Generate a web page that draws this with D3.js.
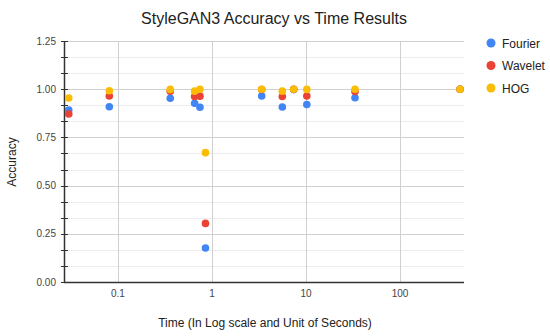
<!DOCTYPE html>
<html>
<head>
<meta charset="utf-8">
<script src="https://cdn.jsdelivr.net/npm/d3@7"></script>
<style>
  body { margin: 0; background: #fff; }
  svg { font-family: "Liberation Sans", Arial, sans-serif; }
</style>
</head>
<body>
<svg id="chart"></svg>
<script>
// time in seconds (log x axis)
const times = [0.030, 0.081, 0.36, 0.654, 0.745, 0.853, 3.38, 5.6, 7.4, 10.2, 33.2, 435];
const fourier = [0.892, 0.909, 0.953, 0.927, 0.906, 0.176, 0.965, 0.908, 0.998, 0.921, 0.956, 1.0];
const wavelet = [0.871, 0.965, 0.99, 0.962, 0.964, 0.304, 0.998, 0.962, 1.0, 0.965, 0.988, 1.0];
const hog = [0.954, 0.992, 0.999, 0.99, 1.0, 0.671, 1.0, 0.99, 1.0, 0.999, 1.0, 1.0];

const seriesNames = ["Fourier", "Wavelet", "HOG"];
const seriesValues = [fourier, wavelet, hog];
const colors = ["#4285f4", "#ea4335", "#fbbc04"];

const xTicks = [0.1, 1, 10, 100];
const yTicks = [0, 0.25, 0.5, 0.75, 1, 1.25];

const width = 550;
const height = 336;
const margin = { top: 41, right: 86, bottom: 54, left: 64 };

const svg = d3.select("#chart").attr("width", width).attr("height", height);

const x = d3
  .scaleLog()
  .domain([0.0267, 479])
  .range([margin.left, width - margin.right]);

const y = d3
  .scaleLinear()
  .domain([0, 1.25])
  .range([height - margin.bottom, margin.top]);

// minor horizontal gridlines (3 per major step)
const minorY = d3.range(0, 1.25 + 1e-9, 0.25 / 3).filter((v) => Math.abs(v / 0.25 - Math.round(v / 0.25)) > 0.01);

svg
  .append("g")
  .selectAll("line")
  .data(minorY)
  .enter()
  .append("line")
  .attr("x1", margin.left)
  .attr("x2", width - margin.right)
  .attr("y1", (d) => Math.round(y(d)) + 0.5)
  .attr("y2", (d) => Math.round(y(d)) + 0.5)
  .style("stroke", "#ececec");

// major horizontal gridlines
svg
  .append("g")
  .selectAll("line")
  .data(yTicks)
  .enter()
  .append("line")
  .attr("x1", margin.left)
  .attr("x2", width - margin.right)
  .attr("y1", (d) => Math.round(y(d)) + 0.5)
  .attr("y2", (d) => Math.round(y(d)) + 0.5)
  .style("stroke", "#d0d0d0");

// vertical gridlines
svg
  .append("g")
  .selectAll("line")
  .data(xTicks)
  .enter()
  .append("line")
  .attr("x1", (d) => Math.round(x(d)) + 0.5)
  .attr("x2", (d) => Math.round(x(d)) + 0.5)
  .attr("y1", margin.top)
  .attr("y2", height - margin.bottom)
  .style("stroke", "#d0d0d0");

// y axis line with tick marks on both sides
const yAxis = svg.append("g");
yAxis
  .append("line")
  .attr("x1", margin.left + 0.5)
  .attr("x2", margin.left + 0.5)
  .attr("y1", y(1.25))
  .attr("y2", y(0))
  .style("stroke", "#333")
  .style("stroke-width", 1.5);

yAxis
  .selectAll(".tickmark")
  .data(yTicks.concat(minorY))
  .enter()
  .append("line")
  .attr("class", "tickmark")
  .attr("x1", margin.left - 3)
  .attr("x2", margin.left + 4)
  .attr("y1", (d) => Math.round(y(d)) + 0.5)
  .attr("y2", (d) => Math.round(y(d)) + 0.5)
  .style("stroke", "#333");

yAxis
  .selectAll("text")
  .data(yTicks)
  .enter()
  .append("text")
  .attr("x", margin.left - 8)
  .attr("y", (d) => y(d) + 3.5)
  .attr("text-anchor", "end")
  .style("font-size", "10px")
  .style("fill", "#444")
  .text((d) => d3.format(".2f")(d));

// x axis line
svg
  .append("line")
  .attr("x1", margin.left)
  .attr("x2", width - margin.right)
  .attr("y1", y(0) + 0.5)
  .attr("y2", y(0) + 0.5)
  .style("stroke", "#333")
  .style("stroke-width", 1.5);

svg
  .append("g")
  .selectAll("text")
  .data(xTicks)
  .enter()
  .append("text")
  .attr("x", (d) => x(d))
  .attr("y", y(0) + 15)
  .attr("text-anchor", "middle")
  .style("font-size", "10px")
  .style("fill", "#444")
  .text((d) => d);

// points, drawn series by series so HOG ends up on top
seriesValues.forEach(function (vals, s) {
  svg
    .append("g")
    .selectAll("circle")
    .data(vals)
    .enter()
    .append("circle")
    .attr("cx", (d, i) => x(times[i]))
    .attr("cy", (d) => y(d))
    .attr("r", 3.8)
    .style("fill", colors[s]);
});

// title
svg
  .append("text")
  .attr("x", 274)
  .attr("y", 24)
  .attr("text-anchor", "middle")
  .style("font-size", "16px")
  .style("fill", "#222")
  .text("StyleGAN3 Accuracy vs Time Results");

// axis titles
svg
  .append("text")
  .attr("x", 265)
  .attr("y", 327)
  .attr("text-anchor", "middle")
  .style("font-size", "12px")
  .style("fill", "#222")
  .text("Time (In Log scale and Unit of Seconds)");

svg
  .append("text")
  .attr("transform", "translate(16, 162) rotate(-90)")
  .attr("text-anchor", "middle")
  .style("font-size", "12px")
  .style("fill", "#222")
  .text("Accuracy");

// legend
const legend = svg.append("g").attr("transform", "translate(491, 43)");

legend
  .selectAll("circle")
  .data(seriesNames)
  .enter()
  .append("circle")
  .attr("cx", 0)
  .attr("cy", (d, i) => i * 22.5)
  .attr("r", 4.5)
  .style("fill", (d, i) => colors[i]);

legend
  .selectAll("text")
  .data(seriesNames)
  .enter()
  .append("text")
  .attr("x", 11)
  .attr("y", (d, i) => i * 22.5 + 4.5)
  .style("font-size", "12px")
  .style("fill", "#222")
  .text((d) => d);
</script>
</body>
</html>
